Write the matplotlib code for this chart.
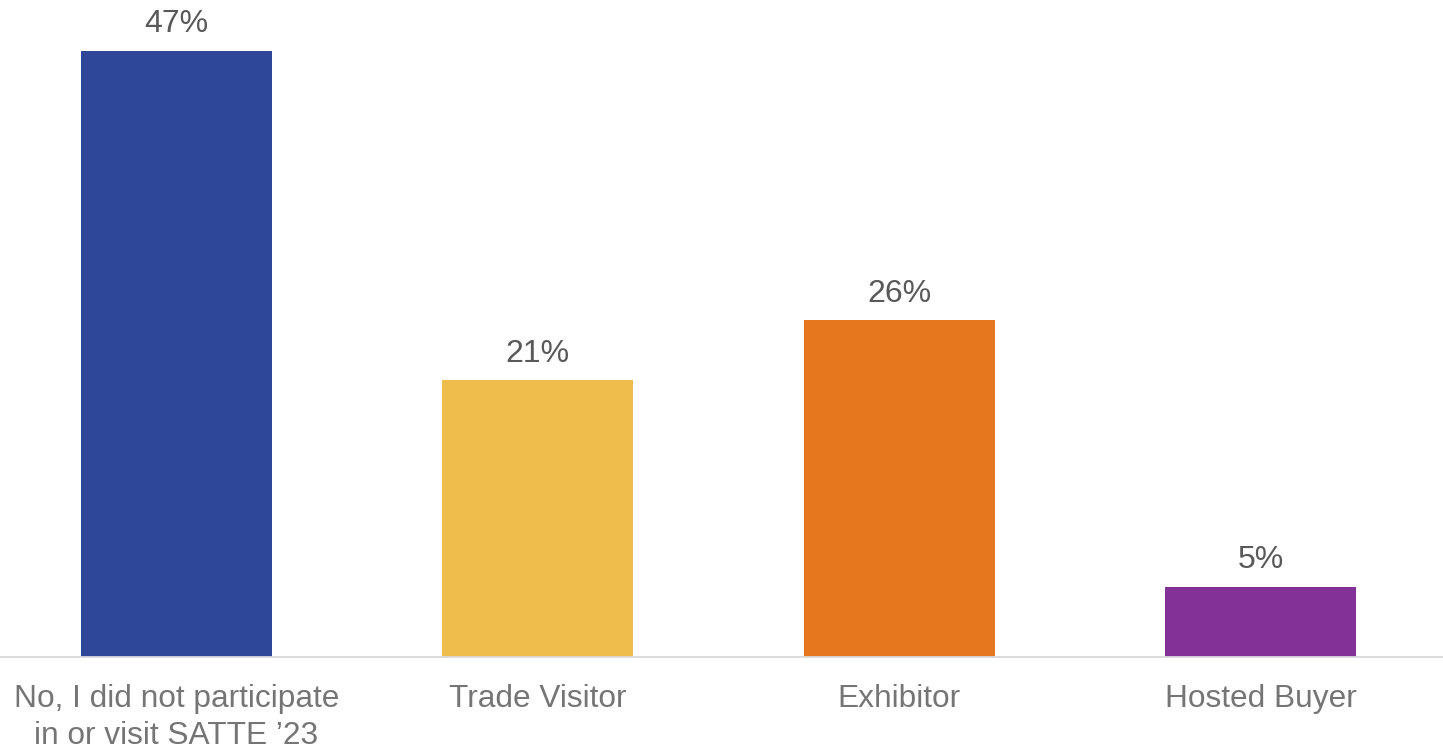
import matplotlib.pyplot as plt

plt.rcParams["font.family"] = ["Liberation Sans", "DejaVu Sans"]

categories = ["No, I did not participate\nin or visit SATTE \u201923", "Trade Visitor", "Exhibitor", "Hosted Buyer"]
shares = [46.6, 21.3, 25.9, 5.4]
colors = ["#2E4798", "#EFBD4B", "#E7771F", "#833196"]

fig = plt.figure(figsize=(14.43, 7.52), dpi=100)
ax = fig.add_axes([0, 0.1257, 1, 0.8743])

x = list(range(len(categories)))
bars = ax.bar(x, shares, width=0.529, color=colors)

for b, v in zip(bars, shares):
    ax.annotate(f"{v:.0f}%", (b.get_x() + b.get_width() / 2, v),
                xytext=(0, 13.5), textcoords="offset points",
                ha="center", va="baseline", fontsize=23, color="#595959")

ax.set_xlim(-0.4885, 3.505)
ax.set_ylim(0, 50.52)
ax.set_xticks(x)
ax.set_xticklabels(categories, fontsize=22.8, color="#757575", linespacing=1.3)
ax.tick_params(axis="x", length=0, pad=19)
ax.set_yticks([])

for s in ["top", "left", "right"]:
    ax.spines[s].set_visible(False)
ax.spines["bottom"].set_color("#D9D9D9")
ax.spines["bottom"].set_linewidth(1.3)

plt.savefig("out.png", dpi=100)
